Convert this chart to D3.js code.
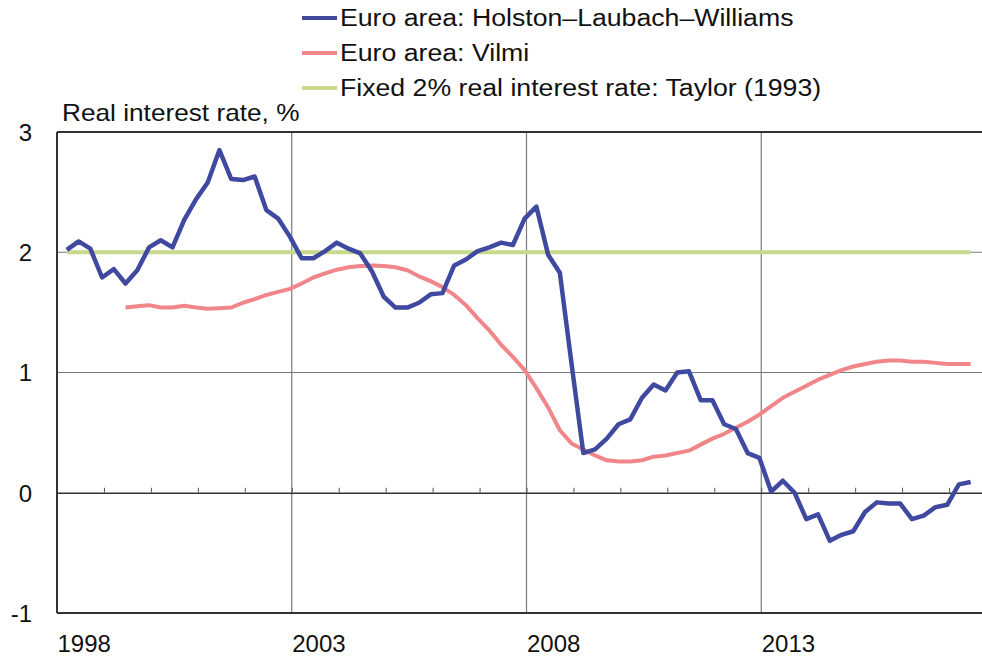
<!DOCTYPE html>
<html>
<head>
<meta charset="utf-8">
<script src="https://cdn.jsdelivr.net/npm/d3@7"></script>
<style>
  body { margin: 0; background: #fff; }
  svg text { font-family: "Liberation Sans", Arial, sans-serif; fill: #111; }
</style>
</head>
<body>
<svg id="chart" width="982" height="658"></svg>
<script>
// quarterly data, 1998Q1 .. 2017Q2
const startYear = 1998;

const hlwValues = [
  2.02, 2.09, 2.03, 1.79, 1.86, 1.74, 1.85, 2.04, 2.10, 2.04, 2.27, 2.44,
  2.58, 2.85, 2.61, 2.60, 2.63, 2.35, 2.28, 2.13, 1.95, 1.95, 2.01, 2.08,
  2.03, 1.99, 1.84, 1.63, 1.54, 1.54, 1.58, 1.65, 1.66, 1.89, 1.94, 2.01,
  2.04, 2.08, 2.06, 2.28, 2.38, 1.98, 1.83, 1.07, 0.33, 0.36, 0.45, 0.57,
  0.61, 0.79, 0.90, 0.85, 1.00, 1.01, 0.77, 0.77, 0.57, 0.53, 0.33, 0.29,
  0.01, 0.10, 0.00, -0.22, -0.18, -0.40, -0.35, -0.32, -0.16, -0.08, -0.09, -0.09,
  -0.22, -0.19, -0.12, -0.10, 0.07, 0.09
];

// Vilmi starts in 1999Q2
const vilmiValues = [
  null, null, null, null, null, 1.54, 1.55, 1.56, 1.54, 1.54, 1.555, 1.54,
  1.53, 1.535, 1.54, 1.58, 1.61, 1.645, 1.67, 1.695, 1.74, 1.79, 1.825, 1.855,
  1.875, 1.885, 1.89, 1.885, 1.875, 1.85, 1.80, 1.76, 1.71, 1.645, 1.56, 1.45,
  1.35, 1.23, 1.13, 1.02, 0.87, 0.71, 0.52, 0.41, 0.36, 0.31, 0.27, 0.26,
  0.26, 0.27, 0.30, 0.31, 0.33, 0.35, 0.40, 0.45, 0.49, 0.54, 0.59, 0.65,
  0.72, 0.79, 0.84, 0.89, 0.94, 0.98, 1.02, 1.05, 1.07, 1.09, 1.10, 1.10,
  1.09, 1.09, 1.08, 1.07, 1.07, 1.07
];

const taylorValues = [
  2, 2, 2, 2, 2, 2, 2, 2, 2, 2, 2, 2,
  2, 2, 2, 2, 2, 2, 2, 2, 2, 2, 2, 2,
  2, 2, 2, 2, 2, 2, 2, 2, 2, 2, 2, 2,
  2, 2, 2, 2, 2, 2, 2, 2, 2, 2, 2, 2,
  2, 2, 2, 2, 2, 2, 2, 2, 2, 2, 2, 2,
  2, 2, 2, 2, 2, 2, 2, 2, 2, 2, 2, 2,
  2, 2, 2, 2, 2, 2
];

const seriesNames = [
  "Euro area: Holston\u2013Laubach\u2013Williams",
  "Euro area: Vilmi",
  "Fixed 2% real interest rate: Taylor (1993)"
];
const seriesColors = ["#4049a0", "#f0868a", "#c6d98c"];

const xTickYears = [1998, 2003, 2008, 2013];
const yTicks = [-1, 0, 1, 2, 3];
const yTitle = "Real interest rate, %";

const svg = d3.select("#chart");

// plot box (right side runs off the picture, like the original)
const boxLeft = 57, boxTop = 132, boxBottom = 613, boxRight = 996;

// the original lettering is a bit wider than Arial
const stretch = 1.14;

const x = d3.scaleLinear().domain([1998, 2018]).range([boxLeft, boxRight]);
const y = d3.scaleLinear().domain([-1, 3]).range([boxBottom, boxTop]);

// points sit a bit after the start of each quarter
const xq = i => x(startYear + i / 4 + 0.21);

// gridlines
svg.append("g")
   .selectAll("line")
   .data([1, 2])
   .enter().append("line")
     .attr("x1", boxLeft).attr("x2", boxRight)
     .attr("y1", d => y(d)).attr("y2", d => y(d))
     .attr("stroke", "#7a7a7a").attr("stroke-width", 1.2);

svg.append("g")
   .selectAll("line")
   .data(xTickYears.slice(1))
   .enter().append("line")
     .attr("x1", d => x(d)).attr("x2", d => x(d))
     .attr("y1", boxTop).attr("y2", boxBottom)
     .attr("stroke", "#7a7a7a").attr("stroke-width", 1.2);

// zero line with small year ticks pointing up
const zeroAxis = svg.append("g")
   .attr("transform", `translate(0, ${y(0)})`)
   .call(d3.axisTop(x).tickValues(d3.range(1999, 2018)).tickSize(5).tickFormat("").tickSizeOuter(0));
zeroAxis.select(".domain").attr("stroke", "#333").attr("stroke-width", 1.4);
zeroAxis.selectAll(".tick line").attr("stroke", "#555").attr("stroke-width", 1);

// box border
svg.append("line").attr("x1", boxLeft).attr("x2", boxRight).attr("y1", boxTop).attr("y2", boxTop)
   .attr("stroke", "#333").attr("stroke-width", 2);
svg.append("line").attr("x1", boxLeft).attr("x2", boxRight).attr("y1", boxBottom).attr("y2", boxBottom)
   .attr("stroke", "#333").attr("stroke-width", 2);
svg.append("line").attr("x1", boxLeft).attr("x2", boxLeft).attr("y1", boxTop).attr("y2", boxBottom)
   .attr("stroke", "#333").attr("stroke-width", 2);

// y labels (plain hyphen for minus, like the original)
const yAxis = svg.append("g")
   .attr("transform", `translate(${boxLeft}, 0)`)
   .call(d3.axisLeft(y).tickValues(yTicks).tickSize(0).tickPadding(25).tickFormat(d => String(d)));
yAxis.select(".domain").remove();
yAxis.selectAll("text")
     .style("font-size", "24px")
     .attr("dy", "0.35em");

// x labels, left aligned at the year
const xAxis = svg.append("g")
   .attr("transform", `translate(0, ${boxBottom})`)
   .call(d3.axisBottom(x).tickValues(xTickYears).tickSize(0).tickPadding(22).tickFormat(d3.format("d")));
xAxis.select(".domain").remove();
xAxis.selectAll("text")
     .style("font-size", "24px")
     .attr("text-anchor", "start")
     .attr("dy", "0.71em");

// y title
svg.append("text")
   .attr("transform", `translate(62, 121) scale(${stretch}, 1)`)
   .style("font-size", "23px")
   .text(yTitle);

// lines
const allSeries = [hlwValues, vilmiValues, taylorValues];
const line = d3.line()
   .defined(d => d != null)
   .x((d, i) => xq(i))
   .y(d => y(d));

const drawOrder = [2, 1, 0];
drawOrder.forEach(k => {
  svg.append("path")
     .datum(allSeries[k])
     .attr("fill", "none")
     .attr("stroke", seriesColors[k])
     .attr("stroke-width", k == 0 ? 4.5 : 4)
     .attr("stroke-linejoin", "round")
     .attr("d", line);
});

// legend
const legend = svg.append("g")
   .selectAll("g")
   .data(seriesNames)
   .enter().append("g")
     .attr("transform", (d, i) => `translate(302, ${18 + i * 35})`);

legend.append("line")
   .attr("x1", 0).attr("x2", 35)
   .attr("stroke", (d, i) => seriesColors[i])
   .attr("stroke-width", 4);

legend.append("text")
   .attr("transform", `translate(38, 0) scale(${stretch + 0.02}, 1)`)
   .attr("dy", "0.35em")
   .style("font-size", "23px")
   .text(d => d);
</script>
</body>
</html>
